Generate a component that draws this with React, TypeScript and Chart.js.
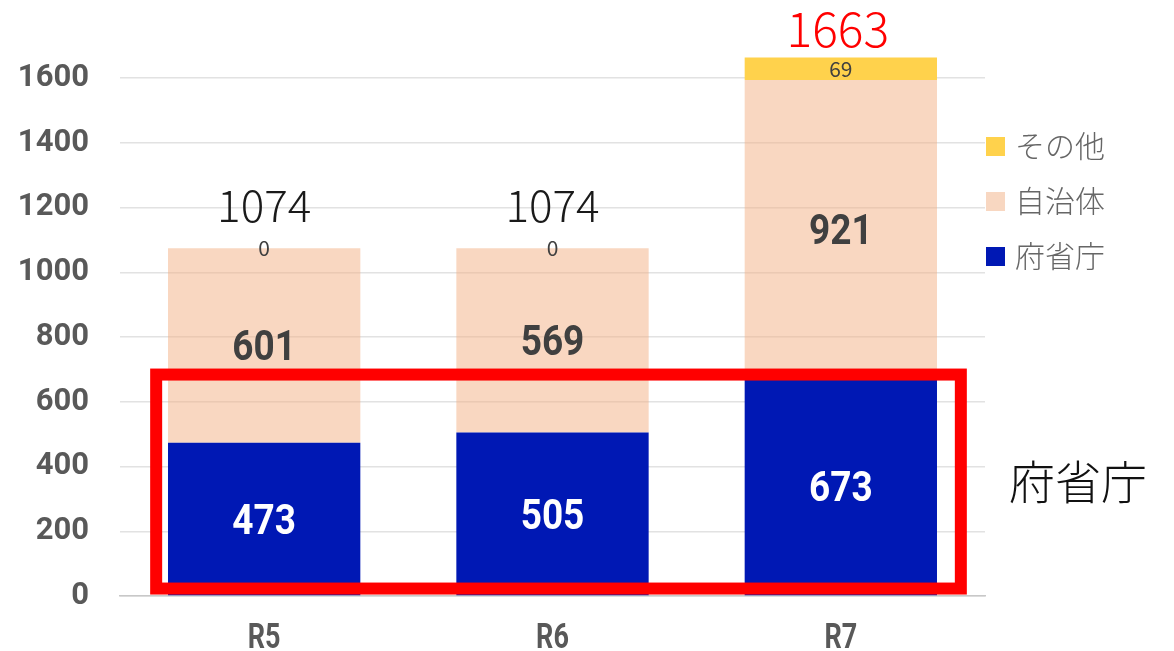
import React, { useEffect, useRef } from "react";
import { Chart, registerables } from "chart.js";

Chart.register(...registerables);

const categories = ["R5", "R6", "R7"];
const fushochoValues = [473, 505, 673];
const jichitaiValues = [601, 569, 921];
const sonotaValues = [0, 0, 69];
const seriesNames = ["府省庁", "自治体", "その他"];
const seriesColors = ["#0018B4", "rgba(244,176,132,0.5)", "#FFD24C"];
const legendSwatchColors = ["#0018B4", "#F8D7C1", "#FFD24C"];
const yTickStep = 200;
const yMax = 1600;
const annotationText = "府省庁";

const totals = categories.map((_, i) => fushochoValues[i] + jichitaiValues[i] + sonotaValues[i]);

function drawText(
  ctx: CanvasRenderingContext2D,
  text: string,
  x: number,
  y: number,
  font: string,
  color: string,
  sy = 1,
  baseline: CanvasTextBaseline = "middle",
  align: CanvasTextAlign = "center"
) {
  ctx.save();
  ctx.translate(x, y);
  ctx.scale(1, sy);
  ctx.font = font;
  ctx.fillStyle = color;
  ctx.textAlign = align;
  ctx.textBaseline = baseline;
  ctx.fillText(text, 0, 0);
  ctx.restore();
}

const customPlugin = {
  id: "customDraw",
  afterDatasetsDraw(chart: any) {
    const ctx: CanvasRenderingContext2D = chart.ctx;
    const xs = chart.scales.x;
    const ys = chart.scales.y;

    // data labels
    chart.data.datasets.forEach((ds: any, di: number) => {
      const meta = chart.getDatasetMeta(di);
      meta.data.forEach((el: any, i: number) => {
        const v = ds.data[i];
        const cx = el.x;
        const cy = (el.y + el.base) / 2;
        if (di === 0) {
          drawText(ctx, String(v), cx, cy + 4, "bold 37px Roboto", "#FFFFFF", 1.15);
        } else if (di === 1) {
          drawText(ctx, String(v), cx, cy + 4, "bold 37px Roboto", "#404040", 1.15);
        } else {
          drawText(ctx, String(v), cx, cy, "400 21px 'Noto Sans CJK JP'", "#404040", 1);
        }
      });
    });

    // totals
    totals.forEach((t, i) => {
      const cx = xs.getPixelForValue(i);
      const top = ys.getPixelForValue(t);
      const isLast = i === totals.length - 1;
      drawText(
        ctx,
        String(t),
        cx - (isLast ? 3 : 0),
        top - (isLast ? 11 : 26),
        isLast ? "300 48px 'Noto Sans CJK JP'" : "300 44px 'Noto Sans CJK JP'",
        isLast ? "#FF0000" : "#1A1A1A",
        1,
        "alphabetic"
      );
    });

    // red highlight rectangle around 府省庁 portion
    const left = xs.getPixelForValue(0) - 108;
    const right = xs.getPixelForValue(categories.length - 1) + 120;
    const top = ys.getPixelForValue(684);
    const bottom = ys.getPixelForValue(23);
    ctx.save();
    ctx.strokeStyle = "#FF0000";
    ctx.lineWidth = 12;
    ctx.lineJoin = "miter";
    ctx.strokeRect(left, top, right - left, bottom - top);
    ctx.restore();
  },
  afterDraw(chart: any) {
    const ctx: CanvasRenderingContext2D = chart.ctx;
    const xs = chart.scales.x;
    const area = chart.chartArea;

    // x category labels
    categories.forEach((c, i) => {
      const px = xs.getPixelForTick(i);
      drawText(ctx, c, px, 648, "bold 27px Roboto", "#595959", 1.33, "alphabetic");
    });

    // legend (reversed order)
    const order = [2, 1, 0];
    const legendX = area.right + 1;
    order.forEach((di, k) => {
      const cy = 146.5 + k * 55;
      ctx.save();
      ctx.fillStyle = legendSwatchColors[di];
      ctx.fillRect(legendX, cy - 9.5, 19, 19);
      ctx.restore();
      drawText(ctx, seriesNames[di], legendX + 29, cy - 1, "300 30px 'Noto Sans CJK JP'", "#666666", 1, "middle", "left");
    });

    // annotation text
    drawText(ctx, annotationText, 1078, 482, "300 46px 'Noto Sans CJK JP'", "#111111", 1, "middle", "center");
  },
};

export default function App() {
  const canvasRef = useRef<HTMLCanvasElement | null>(null);

  useEffect(() => {
    document.body.style.margin = "0";
    const canvas = canvasRef.current;
    if (!canvas) return;
    const chart = new Chart(canvas, {
      type: "bar",
      data: {
        labels: categories,
        datasets: [
          { label: seriesNames[0], data: fushochoValues, backgroundColor: seriesColors[0], clip: false as any },
          { label: seriesNames[1], data: jichitaiValues, backgroundColor: seriesColors[1], clip: false as any },
          { label: seriesNames[2], data: sonotaValues, backgroundColor: seriesColors[2], clip: false as any },
        ],
      },
      options: {
        responsive: false,
        animation: false,
        events: [],
        layout: { padding: { top: 78, right: 189, bottom: 0, left: 0 } },
        datasets: {
          bar: { categoryPercentage: 1, barPercentage: 0.667, borderWidth: 0 },
        },
        plugins: {
          legend: { display: false },
          tooltip: { enabled: false },
        },
        scales: {
          x: {
            stacked: true,
            grid: { display: false },
            border: { display: true, color: "#C8C8C8", width: 1.5 },
            ticks: { display: false },
            afterFit: (scale: any) => {
              scale.height = 55;
            },
          },
          y: {
            stacked: true,
            min: 0,
            max: yMax,
            grid: { color: "#E2E2E2", lineWidth: 1.5, drawTicks: false },
            border: { display: false },
            ticks: {
              stepSize: yTickStep,
              padding: 31,
              color: "#595959",
              font: { family: "Roboto", weight: "bold", size: 31 },
              callback: (v: any) => String(v),
            },
            afterFit: (scale: any) => {
              scale.width = 120;
            },
          },
        },
      },
      plugins: [customPlugin],
    });
    return () => chart.destroy();
  }, []);

  return (
    <div style={{ width: 1174, height: 651 }}>
      <canvas ref={canvasRef} width={1174} height={651} />
    </div>
  );
}
